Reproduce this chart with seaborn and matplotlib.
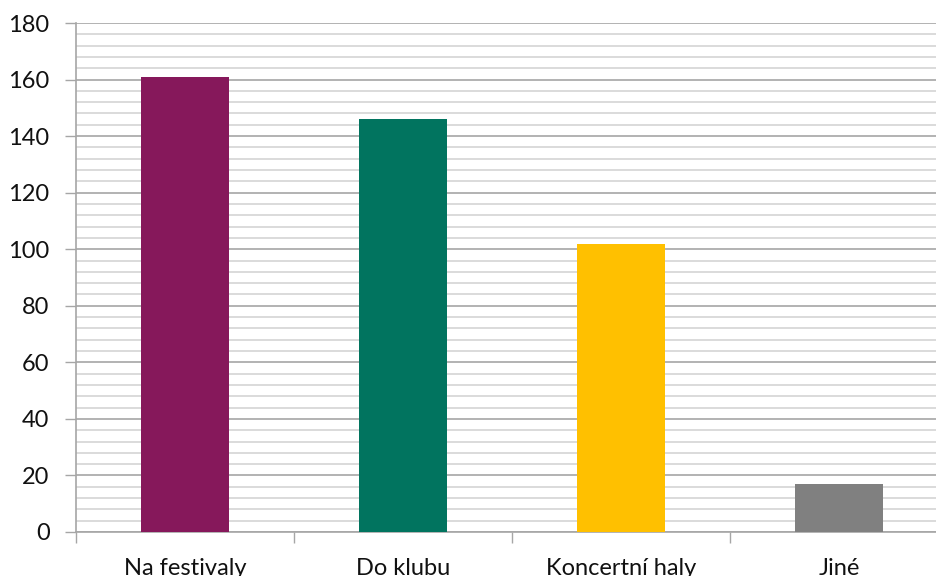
import matplotlib
matplotlib.use("Agg")
import matplotlib.pyplot as plt
from matplotlib.ticker import MultipleLocator, FixedLocator
import seaborn as sns
import pandas as pd

categories = ["Na festivaly", "Do klubu", "Koncertní haly", "Jiné"]
values = [161, 146, 102, 17]
colors = ["#86185B", "#01745F", "#FFC000", "#808080"]

sns.set_theme(style="white")
plt.rcParams["font.family"] = ["Lato", "DejaVu Sans"]

df = pd.DataFrame({"kategorie": categories, "pocet": values})

fig = plt.figure(figsize=(9.36, 5.76), dpi=100)
ax = fig.add_axes([76 / 936, 44 / 576, 872 / 936, 509 / 576])

sns.barplot(data=df, x="kategorie", y="pocet", hue="kategorie",
            palette=colors, width=0.405, saturation=1, legend=False,
            linewidth=0, ax=ax, zorder=3)

ax.set_ylim(0, 180)
ax.set_xlim(-0.5, len(categories) - 0.5)
ax.yaxis.set_major_locator(MultipleLocator(20))
ax.yaxis.set_minor_locator(MultipleLocator(4))
ax.grid(axis="y", which="major", color="#a6a6a6", linewidth=1.2, zorder=0)
ax.grid(axis="y", which="minor", color="#d4d4d4", linewidth=1.2, zorder=0)
ax.grid(axis="x", visible=False)
ax.set_axisbelow(True)

# category boundary ticks on the x axis
ax.xaxis.set_minor_locator(FixedLocator([i - 0.5 for i in range(len(categories) + 1)]))
ax.tick_params(axis="x", which="major", length=0, pad=19, labelsize=17, labelcolor="#111111")
ax.tick_params(axis="x", which="minor", length=8, width=1, color="#a6a6a6", direction="out", bottom=True)
ax.tick_params(axis="y", which="major", length=8, width=1, color="#a6a6a6", direction="out",
               left=True, pad=11, labelsize=17, labelcolor="#111111")
ax.tick_params(axis="y", which="minor", length=0)

ax.set_xlabel("")
ax.set_ylabel("")
for side in ["top", "right"]:
    ax.spines[side].set_visible(False)
for side in ["left", "bottom"]:
    ax.spines[side].set_color("#a6a6a6")
    ax.spines[side].set_linewidth(1.2)

fig.savefig("out.png", dpi=100)
